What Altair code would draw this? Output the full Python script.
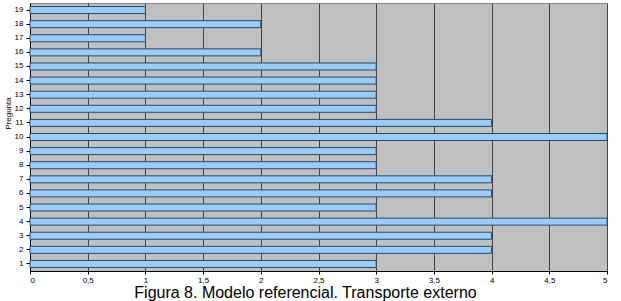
import altair as alt
import pandas as pd

preguntas = [str(i) for i in range(1, 20)]
valores = [3, 4, 4, 5, 3, 4, 4, 3, 3, 5, 4, 3, 3, 3, 3, 2, 1, 2, 1]
x_ticks = [0, 0.5, 1, 1.5, 2, 2.5, 3, 3.5, 4, 4.5, 5]
caption = "Figura 8. Modelo referencial. Transporte externo"

df = pd.DataFrame({"Pregunta": preguntas, "Valor": valores})
order = list(reversed(preguntas))

bars = alt.Chart(df).mark_bar(
    size=7, color="#99ccff", stroke="#2a4a6a", strokeWidth=1
).encode(
    x=alt.X("Valor:Q",
            scale=alt.Scale(domain=[0, 5], nice=False),
            axis=alt.Axis(values=x_ticks, title=None, format="~g",
                          labelExpr="replace(datum.label, '.', ',')",
                          labelFont="Liberation Sans", labelFontSize=8,
                          labelColor="#000", grid=True, gridColor="#444",
                          gridWidth=1, domainColor="#000", tickColor="#000",
                          tickSize=3, labelPadding=2)),
    y=alt.Y("Pregunta:N", sort=order,
            scale=alt.Scale(paddingInner=0, paddingOuter=0),
            axis=alt.Axis(title="Pregunta", titleFont="Liberation Sans",
                          titleFontSize=8, titleFontWeight="normal",
                          titleColor="#000", titlePadding=2, titleY=110,
                          labelFont="Liberation Sans", labelFontSize=8,
                          labelColor="#000", domainColor="#000",
                          tickColor="#000", tickSize=4, labelPadding=3,
                          grid=False)),
)

chart = bars.properties(
    width=577, height=268,
    padding={"left": 30, "top": 3, "right": 14, "bottom": 30},
    autosize=alt.AutoSizeParams(type="none"),
    title=alt.TitleParams(caption, orient="bottom", anchor="middle",
                          font="Liberation Sans", fontSize=16,
                          fontWeight="normal", color="#000", offset=1, dx=-13),
).configure_view(fill="#c0c0c0", stroke="#888")

chart.save("out.html", embed_options={"renderer": "svg", "actions": False})
